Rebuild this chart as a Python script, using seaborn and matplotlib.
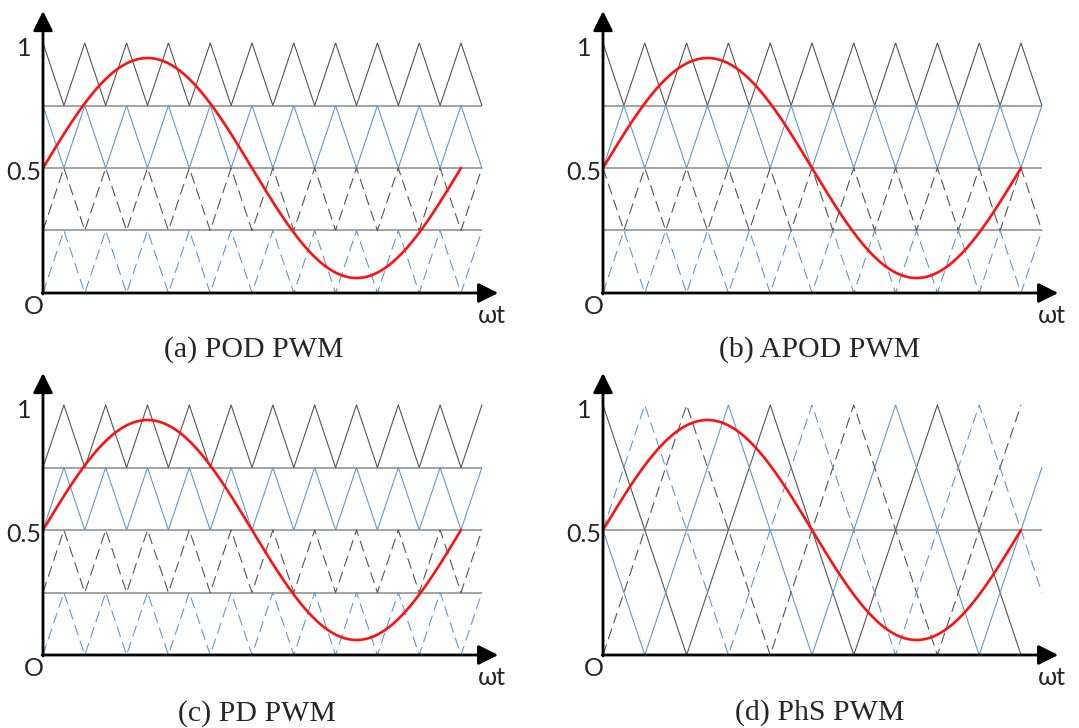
import numpy as np
import pandas as pd
import matplotlib
matplotlib.use("Agg")
import matplotlib.pyplot as plt
import seaborn as sns

sns.set_theme(style="white")
plt.rcParams["font.family"] = ["Lato", "DejaVu Sans"]

# ---- modulating (reference) wave -------------------------------------------
MOD_OFFSET = 0.5
MOD_AMPLITUDE = 0.44
MOD_PERIOD = 10.0          # expressed in level-shifted carrier periods

# ---- level-shifted carriers (top band first) -------------------------------
BAND_LO = [0.75, 0.50, 0.25, 0.00]
BAND_HI = [1.00, 0.75, 0.50, 0.25]
CARRIER_COLORS = ["#555555", "#5b9bd5", "#555555", "#5b9bd5"]
CARRIER_DASHED = [False, False, True, True]
POD_PEAKS = [0.0, 0.0, 0.5, 0.5]     # lower pair in opposition
APOD_PEAKS = [0.0, 0.5, 0.0, 0.5]    # alternate opposition
PD_PEAKS = [0.5, 0.5, 0.5, 0.5]      # all in phase
LS_PERIOD = 1.0
LS_END = 10.5
LS_LEVELS = [0.75, 0.50, 0.25]

# ---- phase-shifted carriers (full 0..1 range) ------------------------------
PHS_PEAKS = [0.0, 3.0, 2.0, 1.0]
PHS_ENDS = [10.0, 10.5, 10.0, 10.5]
PHS_PERIOD = 4.0
PHS_LEVELS = [0.50]

CAPTIONS = ["(a) POD PWM", "(b) APOD PWM", "(c) PD PWM", "(d) PhS PWM"]

# ---- layout (pixels) -------------------------------------------------------
W, H = 1079, 728
SX, SY = 41.8, 250.0
XMIN, XMAX = -1.0, 11.3
YMIN, YMAX = -0.14, 1.17
ORIGINS = [(43, 293), (603, 293), (43, 655), (603, 655)]
CAPTION_POS = [(254, 350), (820, 350), (257, 714), (820, 713)]

DASH = (0, (10, 5))


def triangle(lo, hi, period, peak, end):
    half = period / 2.0
    k = np.arange(np.floor(-peak / half) - 1, np.ceil((end - peak) / half) + 2)
    xs = np.concatenate([[0.0, end], peak + k * half])
    xs = np.unique(xs[(xs >= 0.0) & (xs <= end)])
    phase = ((xs - peak) / period + 0.5) % 1.0 - 0.5
    ys = hi - (hi - lo) * 2.0 * np.abs(phase)
    return pd.DataFrame({"t": xs, "v": ys})


def modulating_wave():
    t = np.linspace(0.0, MOD_PERIOD, 500)
    v = MOD_OFFSET + MOD_AMPLITUDE * np.sin(2 * np.pi * t / MOD_PERIOD)
    return pd.DataFrame({"t": t, "v": v})


def draw_frame(ax):
    arrow = dict(arrowstyle="-|>,head_length=1.0,head_width=0.5",
                 mutation_scale=12, lw=2.0, color="black",
                 shrinkA=0, shrinkB=0)
    ax.annotate("", xy=(0, 1.128), xytext=(0, -0.004), arrowprops=arrow,
                annotation_clip=False)
    ax.annotate("", xy=(10.89, 0), xytext=(-0.02, 0), arrowprops=arrow,
                annotation_clip=False)
    fs = 18
    ax.text(-0.45, 0.98, "1", ha="center", va="center", fontsize=fs)
    ax.text(-0.03, 0.48, "0.5", ha="right", va="center", fontsize=fs)
    ax.text(-0.23, -0.055, "O", ha="center", va="center", fontsize=fs)
    ax.text(10.74, -0.09, "ωt", ha="center", va="center", fontsize=fs)


def draw_line(ax, df, color, dashed, lw=0.8, z=2):
    sns.lineplot(data=df, x="t", y="v", ax=ax, color=color, lw=lw,
                 linestyle=DASH if dashed else "-", sort=False,
                 estimator=None, zorder=z)


fig = plt.figure(figsize=(W / 100, H / 100), dpi=100)
fig.patch.set_facecolor("white")

level_shift_sets = [POD_PEAKS, APOD_PEAKS, PD_PEAKS]

for i, (ox, oy) in enumerate(ORIGINS):
    rect = [(ox + XMIN * SX) / W,
            1 - (oy - YMIN * SY) / H,
            (XMAX - XMIN) * SX / W,
            (YMAX - YMIN) * SY / H]
    ax = fig.add_axes(rect)
    ax.set_facecolor("none")

    if i < 3:
        peaks = level_shift_sets[i]
        for lo, hi, pk, col, dsh in zip(BAND_LO, BAND_HI, peaks,
                                        CARRIER_COLORS, CARRIER_DASHED):
            draw_line(ax, triangle(lo, hi, LS_PERIOD, pk, LS_END), col, dsh)
        levels = LS_LEVELS
    else:
        for pk, end, col, dsh in zip(PHS_PEAKS, PHS_ENDS,
                                     CARRIER_COLORS, CARRIER_DASHED):
            draw_line(ax, triangle(0.0, 1.0, PHS_PERIOD, pk, end), col, dsh)
        levels = PHS_LEVELS

    ax.hlines(levels, 0, LS_END, color="#8a8a8a", lw=1.1, zorder=1)
    draw_line(ax, modulating_wave(), "#ff1010", False, lw=1.9, z=3)
    draw_frame(ax)

    ax.set_xlim(XMIN, XMAX)
    ax.set_ylim(YMIN, YMAX)
    ax.set_axis_off()

    cx, cy = CAPTION_POS[i]
    fig.text(cx / W, 1 - cy / H, CAPTIONS[i], ha="center", va="center",
             fontsize=21.5, family="Liberation Serif")

fig.savefig("out.png", dpi=100, facecolor="white")
